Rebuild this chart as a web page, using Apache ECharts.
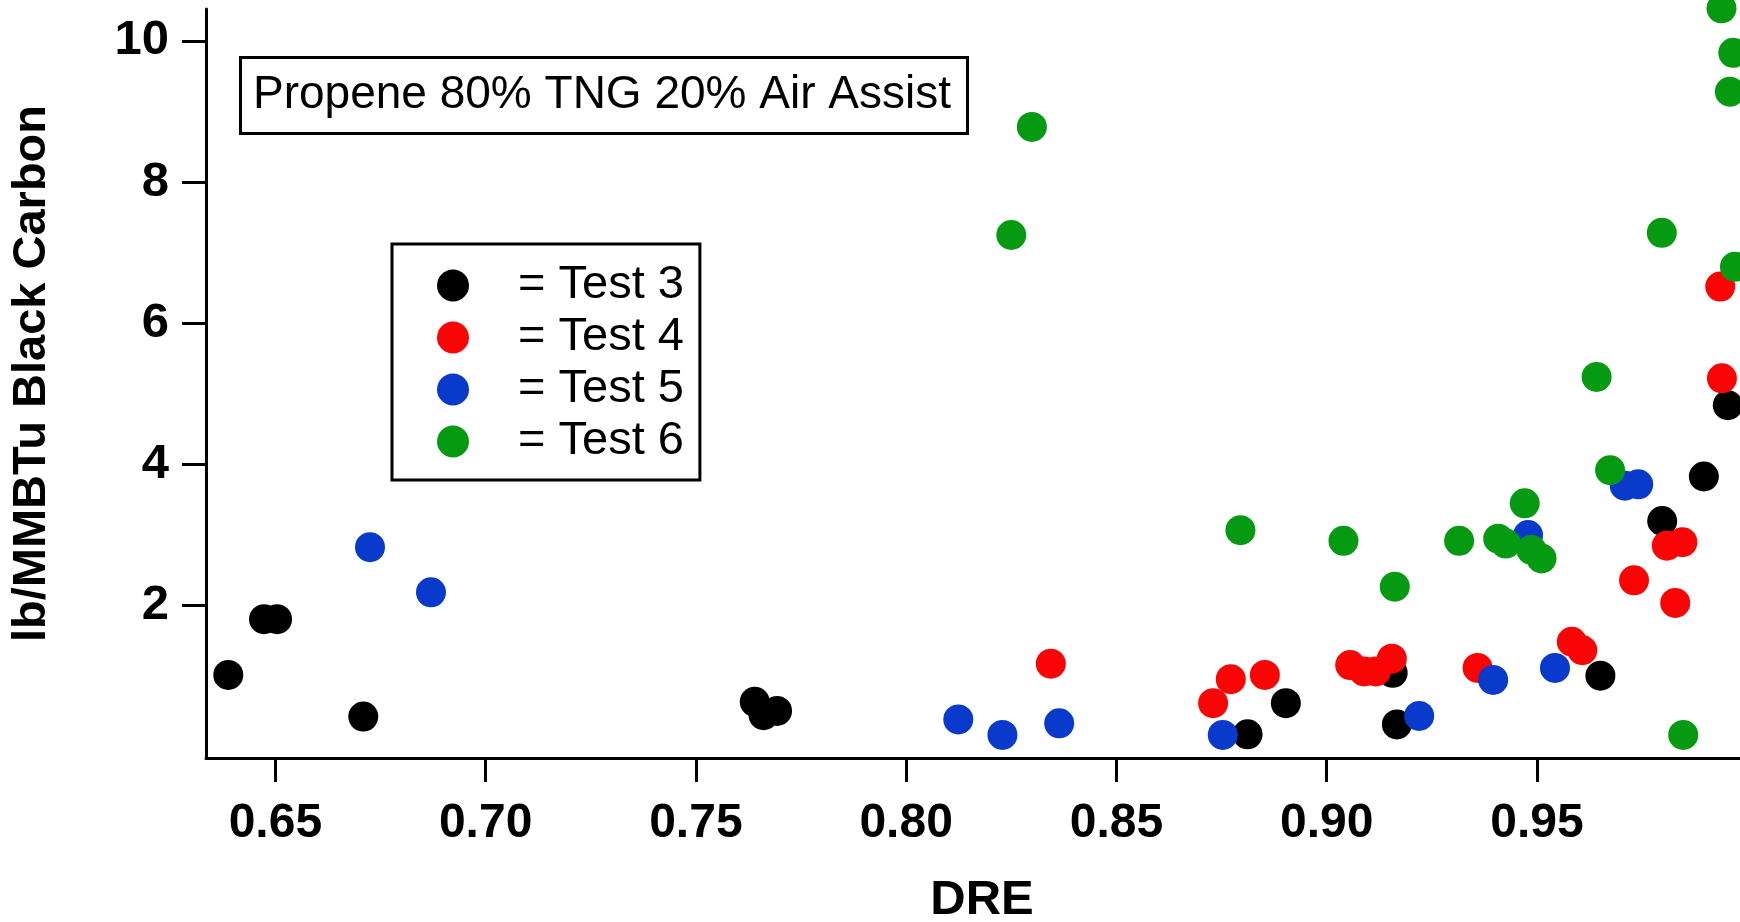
<!DOCTYPE html>
<html>
<head>
<meta charset="utf-8">
<script src="https://cdn.jsdelivr.net/npm/echarts@6/dist/echarts.min.js"></script>
<style>
html,body{margin:0;padding:0;background:#fff;}
#chart{width:1740px;height:922px;}
</style>
</head>
<body>
<div id="chart"></div>
<script>
// ---- data (DRE, lb/MMBTu Black Carbon) ----
const seriesNames = ['Test 3', 'Test 4', 'Test 5', 'Test 6'];
const test3 = [
  [0.6388, 1.02], [0.6473, 1.81], [0.6504, 1.81], [0.6709, 0.43],
  [0.7640, 0.64], [0.7661, 0.45], [0.7693, 0.51], [0.8812, 0.18],
  [0.8903, 0.62], [0.9157, 1.05], [0.9167, 0.32], [0.9651, 1.01],
  [0.9798, 3.20], [0.9897, 3.83], [0.9954, 4.84]
];
const test4 = [
  [0.8344, 1.18], [0.8730, 0.62], [0.8772, 0.96], [0.8853, 1.02],
  [0.9056, 1.16], [0.9089, 1.07], [0.9117, 1.07], [0.9155, 1.25],
  [0.9359, 1.12], [0.9583, 1.49], [0.9608, 1.37], [0.9731, 2.36],
  [0.9809, 2.85], [0.9846, 2.90], [0.9829, 2.04], [0.9936, 6.52],
  [0.9940, 5.22]
];
const test5 = [
  [0.6725, 2.83], [0.6870, 2.19], [0.8124, 0.39], [0.8229, 0.17],
  [0.8364, 0.335], [0.8753, 0.17], [0.9220, 0.44], [0.9396, 0.95],
  [0.9479, 3.00], [0.9543, 1.12], [0.9709, 3.70], [0.9741, 3.72]
];
const test6 = [
  [0.8250, 7.25], [0.8299, 8.78], [0.8795, 3.07], [0.9040, 2.92],
  [0.9162, 2.27], [0.9315, 2.92], [0.9408, 2.95], [0.9426, 2.88],
  [0.9471, 3.45], [0.9487, 2.79], [0.9511, 2.67], [0.9642, 5.24],
  [0.9674, 3.92], [0.9797, 7.28], [0.9848, 0.17], [0.9939, 10.46],
  [0.9967, 9.83], [0.9959, 9.28], [0.9971, 6.80]
];
const xTicks = [0.65, 0.70, 0.75, 0.80, 0.85, 0.90, 0.95];
const yTicks = [2, 4, 6, 8, 10];
const xRange = [0.6335, 0.9983];
const yRange = [-0.156, 10.45];
const annotationText = 'Propene 80% TNG 20% Air Assist';
const xTitle = 'DRE';
const yTitle = 'lb/MMBTu Black Carbon';

// ---- styling ----
const FONT = '"Liberation Sans", Arial, Helvetica, sans-serif';
const colors = ['#000000', '#fa0505', '#0a3acb', '#069a12'];
const allData = [test3, test4, test5, test6];

const chart = echarts.init(document.getElementById('chart'), null, {renderer: 'canvas'});

const axisCommon = {
  axisLine: {show: true, onZero: false, lineStyle: {color: '#000', width: 3}},
  axisTick: {show: true, inside: false, length: 24, lineStyle: {color: '#000', width: 3}},
  splitLine: {show: false}
};

const option = {
  backgroundColor: '#ffffff',
  animation: false,
  grid: {left: 206, right: 0, top: 9, bottom: 164, containLabel: false, outerBoundsMode: 'none'},
  xAxis: Object.assign({}, axisCommon, {
    type: 'value',
    min: xRange[0], max: xRange[1],
    name: xTitle, nameLocation: 'middle', nameGap: 118,
    nameTextStyle: {fontFamily: FONT, fontSize: 49, fontWeight: 'bold', color: '#000', padding: [0, 0, 0, 18]},
    axisTick: Object.assign({}, axisCommon.axisTick, {customValues: xTicks}),
    axisLabel: {
      customValues: xTicks, margin: 42,
      fontFamily: FONT, fontSize: 48, fontWeight: 'bold', color: '#000',
      formatter: v => v.toFixed(2)
    }
  }),
  yAxis: Object.assign({}, axisCommon, {
    type: 'value',
    min: yRange[0], max: yRange[1],
    name: yTitle, nameLocation: 'middle', nameGap: 150, nameRotate: 90,
    nameTextStyle: {fontFamily: FONT, fontSize: 47, fontWeight: 'bold', color: '#000', padding: [0, 0, 0, 20]},
    axisTick: Object.assign({}, axisCommon.axisTick, {customValues: yTicks}),
    axisLabel: {
      customValues: yTicks, margin: 37,
      fontFamily: FONT, fontSize: 49, fontWeight: 'bold', color: '#000'
    }
  }),
  legend: {
    orient: 'vertical', left: 392, top: 244,
    backgroundColor: '#fff',
    borderColor: '#000', borderWidth: 3,
    padding: [18, 16, 15, 45],
    itemWidth: 32, itemHeight: 32, itemGap: 5,
    icon: 'circle',
    formatter: '= {name}',
    textStyle: {fontFamily: FONT, fontSize: 47, color: '#000', padding: [0, 0, 0, 44], lineHeight: 46},
    data: seriesNames
  },
  graphic: [
    {
      type: 'rect', left: 239, top: 56, z: 10,
      shape: {width: 727, height: 76},
      style: {fill: '#fff', stroke: '#000', lineWidth: 3}
    },
    {
      type: 'text', x: 253, y: 95, z: 11,
      style: {text: annotationText, font: '46px ' + FONT, fill: '#000', verticalAlign: 'middle', align: 'left'}
    }
  ],
  series: seriesNames.map((name, i) => ({
    name: name,
    type: 'scatter',
    data: allData[i],
    symbol: 'circle',
    symbolSize: 30,
    clip: false,
    itemStyle: {color: colors[i], opacity: 1},
    emphasis: {disabled: true}
  }))
};

chart.setOption(option);
</script>
</body>
</html>
